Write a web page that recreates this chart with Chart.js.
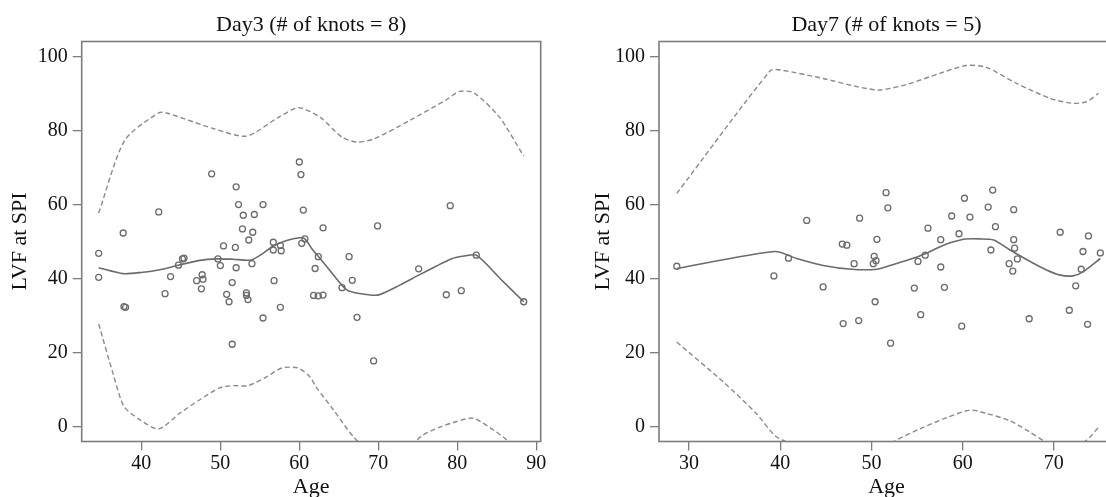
<!DOCTYPE html>
<html>
<head>
<meta charset="utf-8">
<script src="https://cdn.jsdelivr.net/npm/chart.js@4.4.1/dist/chart.umd.min.js"></script>
<style>
  html, body { margin: 0; padding: 0; background: #fff; overflow: hidden; }
  body { width: 1106px; height: 497px; position: relative; }
  canvas { position: absolute; top: 0; }
  #day3Chart { left: 0; }
  #day7Chart { left: 580px; }
</style>
</head>
<body>
<canvas id="day3Chart" width="580" height="510"></canvas>
<canvas id="day7Chart" width="560" height="510"></canvas>
<script>
// ---- data ----
const day3Title = 'Day3 (# of knots = 8)';
const day7Title = 'Day7 (# of knots = 5)';
const xTitle = 'Age';
const yTitle = 'LVF at SPI';

const lvfTicks = [0, 20, 40, 60, 80, 100];
const day3AgeTicks = [40, 50, 60, 70, 80, 90];
const day7AgeTicks = [30, 40, 50, 60, 70];

// Day3 observations
const day3Age = [34.6, 34.6, 37.7, 37.8, 38.0, 42.2, 43.0, 43.7, 44.7, 45.2, 45.4, 47.0, 47.6, 47.7, 47.8,
  48.9, 49.7, 50.0, 50.4, 50.8, 51.1, 51.5, 51.5, 51.9, 52.0, 52.0, 52.3, 52.8, 52.9, 53.3, 53.3, 53.5,
  53.6, 54.0, 54.1, 54.3, 55.4, 55.4, 56.7, 56.7, 56.8, 57.6, 57.7, 57.6, 60.0, 60.2, 60.5, 60.7, 60.3,
  61.8, 62.0, 62.4, 62.4, 63.0, 63.0, 65.4, 66.3, 66.7, 67.3, 69.4, 69.9, 75.1, 78.6, 79.1, 80.5, 82.4, 88.4];
const day3Lvf = [46.8, 40.3, 52.3, 32.4, 32.2, 58.0, 35.9, 40.5, 43.6, 45.3, 45.5, 39.4, 37.2, 41.0, 39.8,
  68.3, 45.3, 43.5, 48.8, 35.7, 33.7, 38.9, 22.2, 48.4, 64.8, 42.9, 60.0, 53.4, 57.1, 36.1, 35.4, 34.3,
  50.4, 44.0, 52.5, 57.3, 29.3, 60.0, 49.8, 47.7, 39.4, 48.9, 47.5, 32.2, 71.5, 68.1, 58.5, 50.7, 49.5,
  35.4, 42.7, 35.3, 45.9, 35.5, 53.7, 37.5, 45.9, 39.5, 29.5, 17.7, 54.2, 42.6, 35.6, 59.7, 36.7, 46.3, 33.7];

// Day3 spline fit and band
const day3FitAge = [34.6, 37.7, 40.2, 42.2, 44.9, 47.4, 49.5, 51.6, 53.9, 55.4, 56.7, 58.4, 60.0, 60.7,
  61.7, 62.6, 64.3, 66.0, 67.4, 69.9, 72.7, 75.1, 77.3, 79.2, 80.7, 82.4, 85.4, 88.4];
const day3Fit = [42.9, 41.3, 41.7, 42.3, 43.7, 44.9, 45.3, 45.2, 45.0, 46.8, 48.8, 50.3, 51.0, 50.7,
  47.7, 45.5, 41.0, 36.9, 36.0, 35.5, 38.2, 40.9, 43.3, 45.3, 46.0, 46.3, 40.0, 33.7];
const day3UpperAge = [34.6, 37.9, 42.2, 43.3, 49.2, 53.3, 57.3, 59.9, 62.7, 65.4, 67.3, 69.5, 74.0, 78.5,
  80.3, 82.1, 85.3, 88.4];
const day3Upper = [57.7, 77.4, 84.8, 84.7, 80.5, 78.5, 83.5, 86.2, 83.5, 78.2, 76.9, 77.8, 82.8, 88.2,
  90.6, 90.2, 83.7, 73.1];
const day3LowerAge = [34.6, 36.4, 37.8, 39.8, 42.2, 44.9, 47.4, 49.9, 51.6, 53.5, 55.8, 57.8, 59.8, 61.3,
  62.2, 64.3, 66.8, 70.0, 72.5, 75.4, 77.8, 79.9, 82.0, 84.5, 86.2, 88.4];
const day3Lower = [27.7, 14.4, 5.4, 1.8, -0.7, 3.6, 7.2, 10.4, 11.0, 11.0, 13.3, 15.8, 15.8, 13.5,
  10.4, 4.5, -2.7, -9.0, -9.0, -2.7, -0.2, 1.3, 2.2, -0.9, -3.6, -9.0];

// Day7 observations
const day7Age = [28.65, 39.3, 40.9, 42.9, 44.7, 46.8, 47.3, 46.9, 48.1, 48.7, 48.6, 50.3, 50.5, 50.2, 50.4,
  50.6, 51.6, 51.8, 52.1, 54.7, 55.1, 55.4, 55.9, 56.2, 57.6, 57.6, 58.0, 58.8, 59.6, 59.9, 60.2, 60.8,
  62.8, 63.1, 63.3, 63.6, 65.1, 65.5, 65.6, 65.6, 65.7, 66.0, 67.3, 70.7, 71.7, 72.4, 73.0, 73.2, 73.8,
  73.7, 75.1];
const day7Lvf = [43.3, 40.7, 45.5, 55.7, 37.7, 49.3, 49.0, 27.8, 44.0, 56.3, 28.6, 46.0, 44.8, 44.0, 33.7,
  50.6, 63.2, 59.1, 22.5, 37.4, 44.6, 30.2, 46.3, 53.6, 50.5, 43.1, 37.6, 56.9, 52.1, 27.1, 61.7, 56.6,
  59.3, 47.7, 63.9, 54.0, 44.0, 42.0, 58.6, 50.5, 48.2, 45.3, 29.1, 52.5, 31.4, 38.0, 42.5, 47.3, 51.5,
  27.6, 46.9];

// Day7 spline fit and band
const day7FitAge = [28.65, 39.4, 41.8, 44.7, 47.8, 50.6, 52.0, 53.9, 55.9, 57.9, 60.1, 61.9, 63.4, 65.2,
  67.4, 69.2, 70.7, 72.1, 73.2, 75.1];
const day7Fit = [42.7, 47.3, 45.4, 43.5, 42.5, 42.5, 43.5, 44.9, 46.7, 49.0, 50.6, 50.7, 50.4, 47.7,
  44.6, 42.3, 40.9, 40.7, 41.8, 45.4];
const day7UpperAge = [28.65, 38.9, 40.0, 44.7, 48.4, 50.9, 53.9, 57.5, 60.4, 62.6, 65.9, 69.6, 72.0, 73.6, 74.9];
const day7Upper = [63.0, 96.2, 96.4, 94.1, 91.9, 91.0, 92.5, 95.5, 97.6, 97.1, 92.8, 88.7, 87.4, 87.8, 90.1];
const day7LowerAge = [28.65, 33.8, 37.4, 39.4, 40.9, 44.0, 47.0, 50.0, 52.6, 55.3, 58.3, 60.8, 62.6, 65.2,
  67.4, 68.9, 71.0, 73.5, 74.9];
const day7Lower = [22.8, 11.9, 3.4, -2.5, -4.5, -9.0, -10.0, -8.0, -3.9, -0.7, 2.4, 4.4, 3.5, 1.5,
  -1.6, -3.9, -6.0, -3.9, -0.3];

// ---- helpers ----
const pairs = (xs, ys) => xs.map((x, i) => ({ x, y: ys[i] }));
const serif = '"Liberation Serif", "Times New Roman", serif';
const inkGray = '#6b6b6b';

// draws the box round the plot region and the panel title
const panelFrame = {
  id: 'panelFrame',
  afterDatasetsDraw(chart, args, opts) {
    const { ctx, chartArea: a } = chart;
    ctx.save();
    ctx.strokeStyle = '#7d7d7d';
    ctx.lineWidth = 1.6;
    ctx.strokeRect(a.left, a.top, a.right - a.left, a.bottom - a.top);
    ctx.fillStyle = '#111';
    ctx.font = '22px ' + serif;
    ctx.textAlign = 'center';
    ctx.textBaseline = 'alphabetic';
    ctx.fillText(opts.text, (a.left + a.right) / 2, 31);
    ctx.restore();
  }
};

function makePanel(id, cfg) {
  const ctx = document.getElementById(id).getContext('2d');
  return new Chart(ctx, {
    type: 'scatter',
    data: {
      datasets: [
        {
          data: pairs(cfg.upperAge, cfg.upper),
          showLine: true, pointRadius: 0, borderColor: '#8a8a8a', borderWidth: 1.4,
          borderDash: [5, 3], tension: 0.25
        },
        {
          data: pairs(cfg.lowerAge, cfg.lower),
          showLine: true, pointRadius: 0, borderColor: '#8a8a8a', borderWidth: 1.4,
          borderDash: [5, 3], tension: 0.25
        },
        {
          data: pairs(cfg.fitAge, cfg.fit),
          showLine: true, pointRadius: 0, borderColor: inkGray, borderWidth: 1.6, tension: 0.25
        },
        {
          data: pairs(cfg.age, cfg.lvf),
          pointRadius: 3, pointBorderWidth: 1.3, borderColor: inkGray,
          pointBackgroundColor: 'rgba(0,0,0,0)', backgroundColor: 'rgba(0,0,0,0)'
        }
      ]
    },
    options: {
      responsive: false,
      devicePixelRatio: 1,
      animation: false,
      layout: { padding: { left: 0, right: cfg.padRight, top: 41.5, bottom: 0 } },
      plugins: {
        legend: { display: false },
        tooltip: { enabled: false },
        panelFrame: { text: cfg.title }
      },
      scales: {
        x: {
          type: 'linear',
          min: cfg.xMin,
          max: cfg.xMax,
          afterBuildTicks: (s) => { s.ticks = cfg.xTicks.map(v => ({ value: v })); },
          afterFit: (s) => { s.height = 68.5; },
          border: { display: false },
          grid: { drawOnChartArea: false, drawTicks: true, tickLength: 9, color: '#7d7d7d', lineWidth: 1.3 },
          ticks: { color: '#111', font: { family: serif, size: 20 }, padding: 1, maxRotation: 0 },
          title: { display: true, text: xTitle, color: '#111', font: { family: serif, size: 22 }, padding: { bottom: 9.8 } }
        },
        y: {
          type: 'linear',
          min: -4.1,
          max: 104.1,
          afterBuildTicks: (s) => { s.ticks = lvfTicks.map(v => ({ value: v })); },
          afterFit: (s) => { s.width = cfg.yWidth; },
          border: { display: false },
          grid: { drawOnChartArea: false, drawTicks: true, tickLength: 9, color: '#7d7d7d', lineWidth: 1.3 },
          ticks: { color: '#111', font: { family: serif, size: 20 }, padding: 5 },
          title: { display: true, text: yTitle, color: '#111', font: { family: serif, size: 22 }, padding: { top: cfg.yTitlePad } }
        }
      }
    },
    plugins: [panelFrame]
  });
}

makePanel('day3Chart', {
  title: day3Title,
  age: day3Age, lvf: day3Lvf,
  fitAge: day3FitAge, fit: day3Fit,
  upperAge: day3UpperAge, upper: day3Upper,
  lowerAge: day3LowerAge, lower: day3Lower,
  xTicks: day3AgeTicks, xMin: 32.45, xMax: 90.55,
  yWidth: 81.7, padRight: 39.3, yTitlePad: 6.8
});

makePanel('day7Chart', {
  title: day7Title,
  age: day7Age, lvf: day7Lvf,
  fitAge: day7FitAge, fit: day7Fit,
  upperAge: day7UpperAge, upper: day7Upper,
  lowerAge: day7LowerAge, lower: day7Lower,
  xTicks: day7AgeTicks, xMin: 26.7, xMax: 76.6,
  yWidth: 79, padRight: 26, yTitlePad: 9.8
});
</script>
</body>
</html>
